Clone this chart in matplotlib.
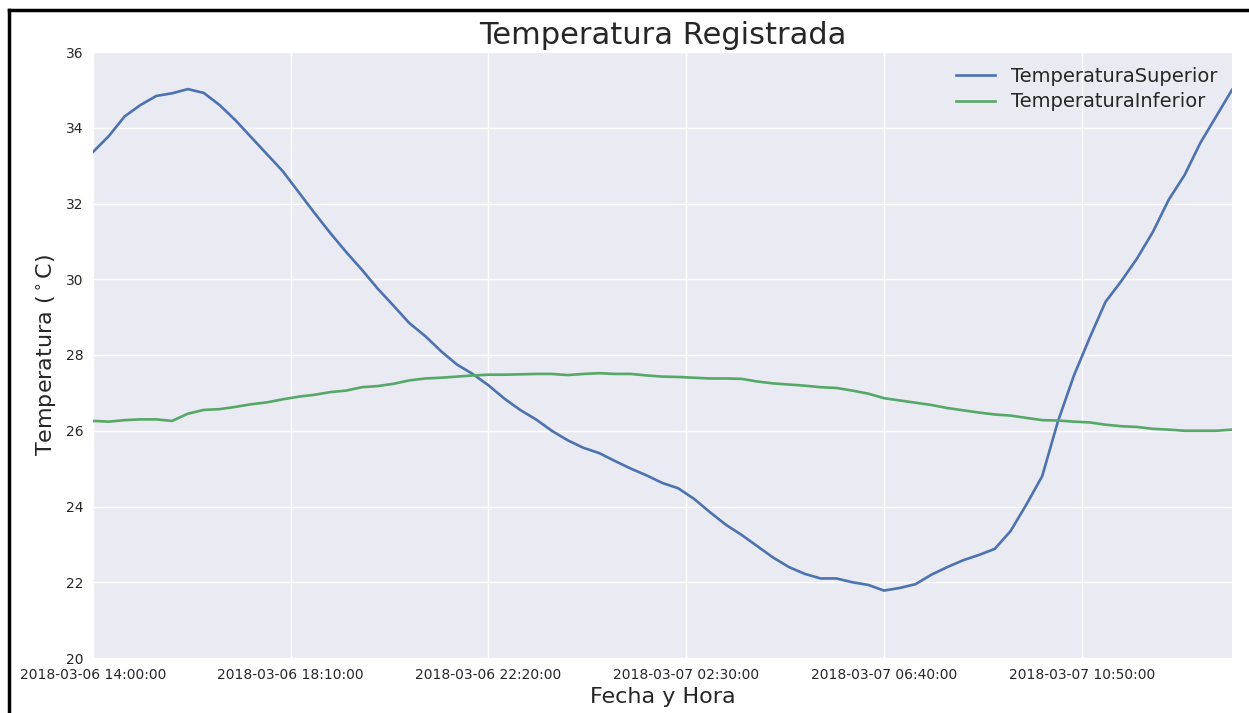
import matplotlib
matplotlib.use("Agg")
import matplotlib.pyplot as plt
import matplotlib.dates as mdates
from matplotlib.lines import Line2D
import pandas as pd

start = "2018-03-06 14:00:00"
end = "2018-03-07 14:00:00"
step = "20min"

temp_superior = [
    33.36, 33.78, 34.30, 34.60, 34.84, 34.91, 35.02, 34.92, 34.60, 34.20,
    33.75, 33.30, 32.85, 32.30, 31.75, 31.22, 30.72, 30.25, 29.75, 29.30,
    28.84, 28.50, 28.10, 27.75, 27.50, 27.20, 26.85, 26.55, 26.30, 26.00,
    25.75, 25.55, 25.41, 25.20, 25.00, 24.82, 24.62, 24.48, 24.20, 23.85,
    23.52, 23.25, 22.95, 22.65, 22.40, 22.22, 22.10, 22.10, 22.00, 21.93,
    21.78, 21.85, 21.95, 22.20, 22.40, 22.58, 22.72, 22.88, 23.35, 24.05,
    24.80, 26.25, 27.45, 28.45, 29.40, 29.95, 30.55, 31.25, 32.10, 32.75,
    33.60, 34.30, 35.00,
]
temp_inferior = [
    26.26, 26.24, 26.28, 26.30, 26.30, 26.26, 26.45, 26.55, 26.57, 26.63,
    26.70, 26.75, 26.83, 26.90, 26.95, 27.02, 27.06, 27.15, 27.18, 27.24,
    27.33, 27.38, 27.40, 27.43, 27.46, 27.48, 27.48, 27.49, 27.50, 27.50,
    27.47, 27.50, 27.52, 27.50, 27.50, 27.46, 27.43, 27.42, 27.40, 27.38,
    27.38, 27.37, 27.30, 27.25, 27.22, 27.19, 27.15, 27.13, 27.06, 26.98,
    26.86, 26.80, 26.74, 26.68, 26.60, 26.54, 26.48, 26.43, 26.40, 26.34,
    26.28, 26.27, 26.24, 26.22, 26.16, 26.12, 26.10, 26.05, 26.03, 26.00,
    26.00, 26.00, 26.03,
]
tick_step = "250min"
title = "Temperatura Registrada"
xlabel = "Fecha y Hora"
ylabel = r"Temperatura ($^\circ$C)"
labels = ["TemperaturaSuperior", "TemperaturaInferior"]

times = pd.date_range(start, end, freq=step)
ticks = pd.date_range(start, end, freq=tick_step)

fig = plt.figure(figsize=(12.49, 7.13), dpi=100)
ax = fig.add_axes([93/1249, 1-658/713, (1232-93)/1249, (658-52)/713])
ax.set_facecolor("#EAEAF2")
for s in ax.spines.values():
    s.set_visible(False)
ax.grid(True, color="white", linewidth=1.0)
ax.set_axisbelow(True)

ax.plot(times, temp_superior, color="#4C72B0", lw=1.9, label=labels[0])
ax.plot(times, temp_inferior, color="#55A868", lw=1.9, label=labels[1])

ax.set_xlim(times[0], times[-1])
ax.set_ylim(20, 36)
ax.set_yticks(range(20, 37, 2))
ax.set_xticks(ticks)
ax.xaxis.set_major_formatter(mdates.DateFormatter("%Y-%m-%d %H:%M:%S"))
ax.tick_params(axis="both", length=0, labelsize=10, colors="#262626", pad=7)

ax.set_title(title, fontsize=22, color="#262626", pad=6)
ax.set_xlabel(xlabel, fontsize=16, color="#262626", labelpad=4)
ax.set_ylabel(ylabel, fontsize=16, color="#262626", labelpad=5)

leg = ax.legend(loc="upper right", frameon=False, fontsize=14, handlelength=2.0,
                labelspacing=0.35, borderaxespad=0.35)
for t in leg.get_texts():
    t.set_color("#262626")

x0 = 9 / 1249
y0 = 1 - 10 / 713
fig.add_artist(Line2D([x0, 1.0], [y0, y0], transform=fig.transFigure, color="black", lw=2.5))
fig.add_artist(Line2D([x0, x0], [0.0, y0], transform=fig.transFigure, color="black", lw=2.5))

fig.savefig("out.png", dpi=100)
